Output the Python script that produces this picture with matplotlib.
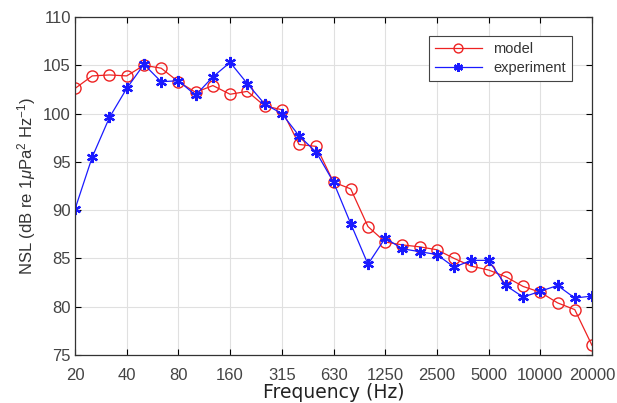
import matplotlib.pyplot as plt
import numpy as np

# third-octave band centres (Hz)
freqs = [20, 25, 31.5, 40, 50, 63, 80, 100, 125, 160, 200, 250, 315, 400, 500,
         630, 800, 1000, 1250, 1600, 2000, 2500, 3150, 4000, 5000, 6300, 8000,
         10000, 12500, 16000, 20000]
model = [102.6, 103.9, 104.0, 103.9, 105.0, 104.7, 103.3, 102.2, 102.9, 102.0,
         102.3, 100.8, 100.4, 96.8, 96.6, 92.9, 92.2, 88.3, 86.7, 86.4, 86.2,
         85.9, 85.0, 84.2, 83.8, 83.1, 82.1, 81.5, 80.4, 79.7, 76.0]
experiment = [90.1, 95.5, 99.6, 102.6, 105.1, 103.3, 103.4, 101.9, 103.8, 105.3,
              103.1, 101.0, 100.0, 97.7, 96.0, 92.9, 88.6, 84.4, 87.1, 86.0,
              85.7, 85.4, 84.1, 84.8, 84.8, 82.2, 81.0, 81.6, 82.2, 80.9, 81.1]
tick_labels = ["20", "40", "80", "160", "315", "630", "1250", "2500", "5000",
               "10000", "20000"]

plt.rcParams["font.family"] = ["Liberation Sans", "DejaVu Sans"]
plt.rcParams["mathtext.fontset"] = "custom"
plt.rcParams["mathtext.rm"] = "Liberation Sans"
plt.rcParams["mathtext.it"] = "Liberation Sans:italic"

x = np.arange(len(freqs))

fig = plt.figure(figsize=(6.17, 4.03), dpi=100)
ax = fig.add_axes([75 / 617, 48 / 403, 517 / 617, 338 / 403])

ax.plot(x, model, "o-", color="#ee2222", lw=0.9, ms=8, mfc="none", mew=1.0,
        label="model")
ax.plot(x, experiment, marker=(6, 2, 0), ls="-", color="#1a1aff", lw=0.9,
        ms=8, mew=1.6, label="experiment")

ax.set_xlim(0, len(freqs) - 1)
ax.set_ylim(75, 110)
ax.set_xticks(x[::3])
ax.set_xticklabels(tick_labels)
ax.set_yticks(range(75, 111, 5))
ax.grid(True, color="#e0e0e0", lw=0.8)
ax.tick_params(direction="in", top=True, right=True, labelsize=12,
               labelcolor="#444444", length=4, width=0.8, pad=3)
ax.tick_params(axis="x", pad=9)
for s in ax.spines.values():
    s.set_color("#333333")
    s.set_linewidth(0.9)

ax.set_xlabel("Frequency (Hz)", fontsize=13.5, color="#222222", labelpad=0,
              family="DejaVu Sans")
ax.set_ylabel(r"NSL (dB re 1$\mu$Pa$^2$ Hz$^{-1}$)", fontsize=12,
              color="#333333", labelpad=4)

leg = ax.legend(loc="upper right", bbox_to_anchor=(0.975, 0.965), fontsize=10.5,
                fancybox=False, edgecolor="#444444", framealpha=1,
                handlelength=3.2, borderpad=0.4, labelspacing=0.35,
                markerscale=0.8)
leg.get_frame().set_linewidth(0.8)
for t in leg.get_texts():
    t.set_color("#333333")

fig.savefig("out.png", dpi=100)
